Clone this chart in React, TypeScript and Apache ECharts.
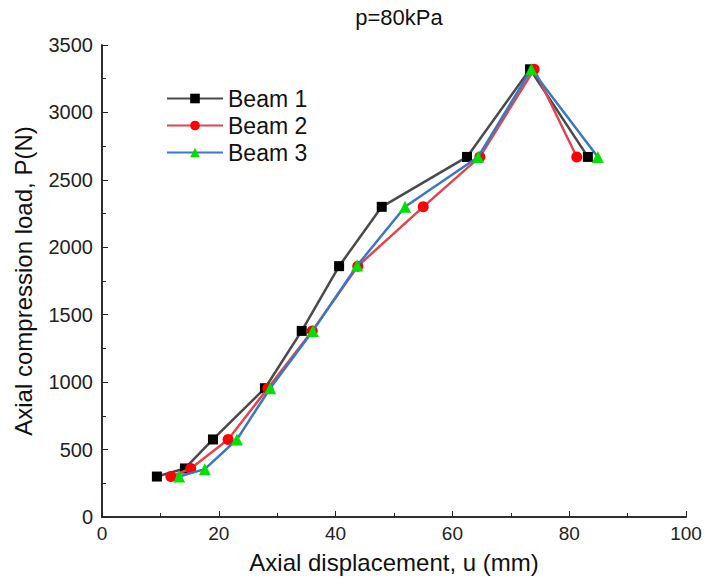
import React, { useEffect, useRef } from "react";
import * as echarts from "echarts";

const beam1X = [9.4, 14.2, 19.0, 27.9, 34.2, 40.6, 47.9, 62.5, 73.3, 83.2];
const beam1Y = [300, 360, 575, 955, 1380, 1860, 2300, 2670, 3320, 2670];
const beam2X = [11.8, 15.2, 21.6, 28.4, 36.0, 43.8, 55.0, 64.7, 74.0, 81.3];
const beam2Y = [300, 360, 575, 955, 1380, 1860, 2300, 2670, 3320, 2670];
const beam3X = [13.2, 17.6, 23.1, 28.8, 36.1, 43.7, 51.9, 64.4, 73.5, 84.9];
const beam3Y = [300, 355, 575, 955, 1380, 1865, 2300, 2670, 3320, 2670];
const seriesNames = ["Beam 1", "Beam 2", "Beam 3"];

const FONT = "'Liberation Sans', Arial, sans-serif";

export default function App() {
  const ref = useRef<HTMLDivElement>(null);
  useEffect(() => {
    if (!ref.current) return;
    const chart = echarts.init(ref.current, null, { renderer: "svg" });
    const pair = (xs: number[], ys: number[]) => xs.map((x, i) => [x, ys[i]]);
    chart.setOption({
      animation: false,
      backgroundColor: "#ffffff",
      textStyle: { fontFamily: FONT },
      title: {
        text: "p=80kPa",
        left: 394,
        top: 1,
        textAlign: "center",
        textStyle: { fontFamily: FONT, fontSize: 22, fontWeight: "normal", color: "#111" },
      },
      legend: {
        left: 161,
        top: 82,
        orient: "vertical",
        itemWidth: 56,
        itemHeight: 12,
        itemGap: 4,
        textStyle: { fontFamily: FONT, fontSize: 23, color: "#111", padding: [0, 0, 0, 0] },
        data: seriesNames,
      },
      grid: { left: 102, right: 20, top: 45, bottom: 61 },
      xAxis: [
        {
          type: "value",
          min: 0,
          max: 100,
          interval: 20,
          name: "Axial displacement, u (mm)",
          nameLocation: "middle",
          nameGap: 33,
          nameTextStyle: { fontFamily: FONT, fontSize: 24, color: "#111" },
          axisLine: { show: true, lineStyle: { color: "#222", width: 1.5 } },
          axisTick: { show: true, inside: true, length: 6, lineStyle: { color: "#222" } },
          minorTick: { show: true, splitNumber: 2, length: 4, lineStyle: { color: "#222" } },
          splitLine: { show: false },
          axisLabel: { fontFamily: FONT, fontSize: 19, color: "#222", margin: 7 },
        },
        {
          type: "value",
          position: "top",
          min: 0,
          max: 100,
          interval: 20,
          axisLine: { show: true, lineStyle: { color: "#222", width: 1.5 } },
          axisTick: { show: false },
          axisLabel: { show: false },
          splitLine: { show: false },
        },
      ],
      yAxis: [
        {
          type: "value",
          min: 0,
          max: 3500,
          interval: 500,
          name: "Axial compression load, P(N)",
          nameLocation: "middle",
          nameGap: 67,
          nameTextStyle: { fontFamily: FONT, fontSize: 24, color: "#111" },
          axisLine: { show: true, lineStyle: { color: "#222", width: 1.5 } },
          axisTick: { show: true, inside: true, length: 6, lineStyle: { color: "#222" } },
          minorTick: { show: true, splitNumber: 2, length: 4, lineStyle: { color: "#222" } },
          splitLine: { show: false },
          axisLabel: {
            fontFamily: FONT,
            fontSize: 20,
            color: "#222",
            margin: 9,
            formatter: (v: number) => String(v),
          },
        },
        {
          type: "value",
          position: "right",
          min: 0,
          max: 3500,
          interval: 500,
          axisLine: { show: true, lineStyle: { color: "#222", width: 1.5 } },
          axisTick: { show: false },
          axisLabel: { show: false },
          splitLine: { show: false },
        },
      ],
      series: [
        {
          name: seriesNames[0],
          type: "line",
          data: pair(beam1X, beam1Y),
          symbol: "rect",
          symbolSize: 10,
          itemStyle: { color: "#000000" },
          lineStyle: { color: "#4a4a4a", width: 2.5 },
          z: 2,
        },
        {
          name: seriesNames[1],
          type: "line",
          data: pair(beam2X, beam2Y),
          symbol: "circle",
          symbolSize: 11,
          itemStyle: { color: "#ff0000" },
          lineStyle: { color: "#e0474c", width: 2.5 },
          z: 3,
        },
        {
          name: seriesNames[2],
          type: "line",
          data: pair(beam3X, beam3Y),
          symbol: "triangle",
          symbolSize: 12,
          itemStyle: { color: "#00e000" },
          lineStyle: { color: "#3a78c3", width: 2.5 },
          z: 4,
        },
      ],
    });
    return () => chart.dispose();
  }, []);
  return <div ref={ref} style={{ width: 706, height: 579, position: "absolute", left: 0, top: 0 }} />;
}
